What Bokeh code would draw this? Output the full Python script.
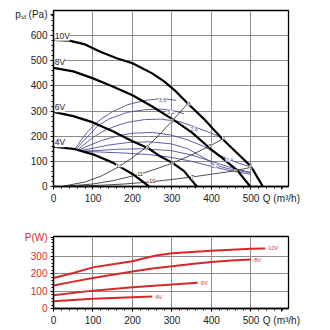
from bokeh.plotting import figure
from bokeh.models import Range1d, FixedTicker, Label
from bokeh.layouts import column
from bokeh.embed import file_html
from bokeh.resources import INLINE

FONT = "Liberation Sans"
BLUE = "#4a4f98"
RED = "#d42a2a"
GRID = "#8c8c8c"

# ---------------- top chart: static pressure ----------------
q10 = [0, 40, 80, 120, 160, 200, 250, 280, 310, 340, 380, 424, 460, 500, 530]
p10 = [583, 580, 565, 535, 510, 490, 450, 418, 378, 330, 270, 195, 140, 80, 0]
q8 = [0, 50, 100, 150, 200, 250, 305, 350, 398, 430, 466, 498]
p8 = [472, 458, 430, 398, 363, 318, 264, 215, 149, 110, 63, 0]
q6 = [0, 50, 100, 150, 200, 240, 270, 300, 330, 363]
p6 = [297, 280, 255, 220, 180, 152, 120, 95, 62, 0]
q4 = [0, 50, 100, 150, 200, 242]
p4 = [158, 150, 128, 95, 50, 0]
fan_q = [q10, q8, q6, q4]
fan_p = [p10, p8, p6, p4]
fan_names = ["10V", "8V", "6V", "4V"]
fan_name_y = [600, 495, 315, 176]

# system curves
sysA_q = [20, 80, 120, 166, 200, 238, 270, 297, 339]
sysA_p = [0, 18, 41, 79, 115, 160, 209, 255, 328]
sysB_q = [20, 100, 150, 219, 260, 301, 350, 397, 431]
sysB_p = [0, 10, 23, 49, 70, 93, 126, 162, 192]
sysC_q = [20, 120, 180, 250, 300, 352, 400, 462, 505]
sysC_p = [0, 5, 10, 19, 28, 38, 49, 63, 78]
sys_lbl = ["12", "9", "6", "3", "11", "8", "5", "2", "10", "7", "4", "1"]
sys_lq = [166, 238, 300, 343, 219, 301, 397, 431, 250, 352, 462, 500]
sys_lp = [83, 156, 262, 328, 48, 92, 163, 193, 20, 37, 61, 80]

# iso-efficiency curves
e1_q = [55, 70, 85, 100, 120, 150, 187, 230, 263, 290, 310]
e1_p = [150, 185, 215, 240, 268, 298, 325, 342, 348, 347, 343]
e2_q = [58, 75, 95, 111, 140, 187, 230, 271, 300, 330]
e2_p = [148, 180, 212, 240, 268, 295, 305, 308, 303, 290]
e3_q = [62, 80, 100, 128, 160, 187, 230, 271, 320, 356, 395, 428]
e3_p = [146, 170, 195, 222, 242, 255, 266, 268, 258, 238, 215, 192]
e4_q = [65, 90, 120, 160, 200, 250, 297, 340, 380, 420, 445, 470, 495]
e4_p = [145, 163, 182, 200, 212, 215, 205, 185, 160, 125, 107, 92, 80]
e5_q = [68, 100, 140, 190, 240, 297, 340, 380, 410, 440, 470, 500]
e5_p = [143, 152, 165, 175, 178, 170, 150, 115, 85, 72, 62, 55]
e6_q = [70, 110, 160, 220, 297, 350, 400, 450, 500]
e6_p = [141, 143, 148, 150, 143, 125, 100, 75, 55]
e7_q = [72, 120, 180, 240, 297, 350, 400, 450, 500]
e7_p = [140, 137, 133, 127, 116, 100, 80, 62, 48]
eff_q = [e1_q, e2_q, e3_q, e4_q, e5_q, e6_q, e7_q]
eff_p = [e1_p, e2_p, e3_p, e4_p, e5_p, e6_p, e7_p]
eff_lbl = ["3,6", "3,2", "2,8", "2,4", "2,0"]
eff_lq = [276, 297, 356, 445, 410]
eff_lp = [345, 297, 230, 105, 83]

x_ticks = [0, 100, 200, 300, 400, 500]
y1_ticks = [0, 100, 200, 300, 400, 500, 600]
x_title = "Q (m³/h)"
x_title_pos = 577
y1_title = "pₛₜ (Pa)"
y1_title_pos = 683

# ---------------- bottom chart: power ----------------
w10_q = [0, 50, 100, 150, 200, 230, 260, 300, 400, 500, 536]
w10_p = [176, 205, 237, 255, 272, 290, 305, 318, 333, 345, 346]
w8_q = [0, 50, 100, 150, 200, 250, 300, 350, 400, 450, 500]
w8_p = [132, 155, 176, 195, 213, 230, 243, 257, 268, 277, 282]
w6_q = [0, 100, 200, 300, 365]
w6_p = [77, 103, 122, 138, 149]
w4_q = [0, 100, 200, 250]
w4_p = [42, 56, 65, 69]
pow_q = [w10_q, w8_q, w6_q, w4_q]
pow_p = [w10_p, w8_p, w6_p, w4_p]
pow_names = ["10V", "8V", "6V", "4V"]
y2_ticks = [0, 100, 200, 300]
y2_title = "P(W)"
y2_title_pos = 408


def style(p, yticks, ymax, ycolor, ytitle, ytitle_pos):
    p.xaxis.ticker = FixedTicker(ticks=x_ticks + [x_title_pos],
                                 minor_ticks=list(range(0, 600, 20)))
    p.xaxis.major_label_overrides = {x_title_pos: x_title}
    p.yaxis.ticker = FixedTicker(ticks=yticks + [ytitle_pos],
                                 minor_ticks=list(range(0, ymax, 20)))
    p.yaxis.major_label_overrides = {ytitle_pos: ytitle}
    p.xgrid.ticker = FixedTicker(ticks=x_ticks)
    p.ygrid.ticker = FixedTicker(ticks=yticks)
    for ax in (p.xaxis, p.yaxis):
        ax.axis_line_color = "black"
        ax.axis_line_width = 1.3
        ax.major_tick_line_color = "black"
        ax.minor_tick_line_color = "black"
        ax.major_tick_out = 3
        ax.major_tick_in = 0
        ax.minor_tick_out = 2
        ax.minor_tick_in = 0
        ax.major_label_text_font = FONT
        ax.major_label_text_font_size = "10px"
        ax.major_label_standoff = 3
    p.xaxis.major_label_text_color = "#222222"
    p.yaxis.major_label_text_color = ycolor
    p.grid.grid_line_color = GRID
    p.grid.grid_line_width = 1
    p.outline_line_color = "black"
    p.outline_line_width = 1.3
    p.background_fill_color = "white"
    p.border_fill_color = "white"


p1 = figure(width=330, height=215, x_range=Range1d(0, 595), y_range=Range1d(0, 700),
            output_backend="svg", toolbar_location=None,
            min_border_left=53, min_border_right=42, min_border_top=10, min_border_bottom=29)
style(p1, y1_ticks, 700, "#222222", y1_title, y1_title_pos)

for q, pp in zip(eff_q, eff_p):
    p1.line(q, pp, line_color=BLUE, line_width=0.9)
for q, pp in [(sysA_q, sysA_p), (sysB_q, sysB_p), (sysC_q, sysC_p)]:
    p1.line(q, pp, line_color="#222222", line_width=0.8)
for q, pp in zip(fan_q, fan_p):
    p1.line(q, pp, line_color="black", line_width=2.2)

for t, x, y in zip(sys_lbl, sys_lq, sys_lp):
    p1.add_layout(Label(x=x, y=y, text=t, text_font=FONT, text_font_size="5.5px",
                        text_color="#222222", text_align="center", text_baseline="middle",
                        background_fill_color="white", background_fill_alpha=0.9))
for t, x, y in zip(eff_lbl, eff_lq, eff_lp):
    p1.add_layout(Label(x=x, y=y, text=t, text_font=FONT, text_font_size="5.5px",
                        text_color=BLUE, text_align="center", text_baseline="middle",
                        background_fill_color="white", background_fill_alpha=0.9))
for t, y in zip(fan_names, fan_name_y):
    p1.add_layout(Label(x=3, y=y, text=t, text_font=FONT, text_font_size="8.5px",
                        text_color="#222222", text_align="left", text_baseline="middle",
                        background_fill_color="white", background_fill_alpha=1.0))

p2 = figure(width=330, height=115, x_range=Range1d(0, 595), y_range=Range1d(0, 415),
            output_backend="svg", toolbar_location=None,
            min_border_left=53, min_border_right=42, min_border_top=21, min_border_bottom=22)
style(p2, y2_ticks, 415, RED, y2_title, y2_title_pos)

for q, pp in zip(pow_q, pow_p):
    p2.line(q, pp, line_color=RED, line_width=2.0)
for t, q, pp in zip(pow_names, pow_q, pow_p):
    p2.add_layout(Label(x=q[-1] + 8, y=pp[-1], text=t, text_font=FONT, text_font_size="5.5px",
                        text_color=RED, text_align="left", text_baseline="middle"))

layout = column(p1, p2, spacing=0)
open("out.html", "w").write(file_html(layout, INLINE))
